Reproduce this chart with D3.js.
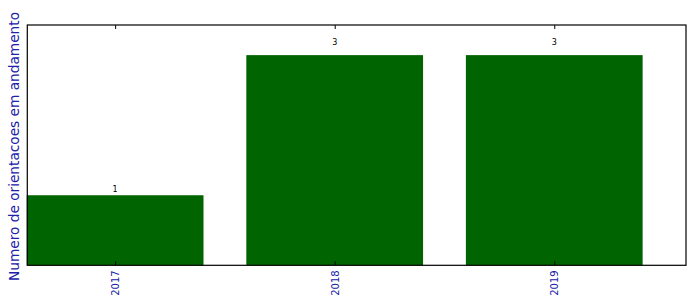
<!DOCTYPE html>
<html>
<head>
<meta charset="utf-8">
<script src="https://cdn.jsdelivr.net/npm/d3@7"></script>
<style>
  body { margin: 0; background: #fff; }
  svg { display: block; font-family: "DejaVu Sans", sans-serif; }
</style>
</head>
<body>
<div id="app"></div>
<script>
// chart data
const years = ['2017', '2018', '2019'];
const counts = [1, 3, 3];

(() => {
  const WIDTH = 696;
  const HEIGHT = 308;
  const margin = { left: 27.3, right: 10, top: 25, bottom: 42.7 };

  const svg = d3.select('#app')
    .append('svg')
    .attr('width', WIDTH)
    .attr('height', HEIGHT);

  // positions like matplotlib: bars centred on index, xlim [-0.4, 2.6]
  const x = d3.scaleLinear()
    .domain([-0.4, 2.6])
    .range([margin.left, WIDTH - margin.right]);

  const y = d3.scaleLinear()
    .domain([0, 3.43])
    .range([HEIGHT - margin.bottom, margin.top]);

  const barW = 0.805;

  svg.append('g')
    .selectAll('rect')
    .data(counts)
    .join('rect')
    .attr('x', (d, i) => x(i - barW / 2))
    .attr('width', x(barW) - x(0))
    .attr('y', d => y(d))
    .attr('height', d => y(0) - y(d))
    .attr('fill', '#006400');

  // value labels
  svg.append('g')
    .selectAll('text')
    .data(counts)
    .join('text')
    .attr('x', (d, i) => x(i))
    .attr('y', d => y(d * 1.05))
    .attr('text-anchor', 'middle')
    .attr('font-size', 8)
    .attr('fill', '#000')
    .text(d => d);

  // bottom ticks (inward) + rotated labels
  const xAxis = d3.axisBottom(x)
    .tickValues(d3.range(years.length))
    .tickFormat(i => years[i])
    .tickSize(-4)
    .tickPadding(6);

  const gx = svg.append('g')
    .attr('transform', `translate(0,${y(0)})`)
    .call(xAxis);
  gx.select('.domain').remove();
  gx.selectAll('line').attr('stroke', '#000');
  gx.selectAll('text')
    .attr('font-size', 10)
    .attr('font-family', '"DejaVu Sans", sans-serif')
    .attr('fill', '#2020a8')
    .attr('transform', 'rotate(-90)')
    .attr('text-anchor', 'end')
    .attr('dy', '0.35em')
    .attr('x', -5)
    .attr('y', 0);

  // top ticks (inward)
  const gt = svg.append('g')
    .attr('transform', `translate(0,${y.range()[1]})`)
    .call(d3.axisTop(x).tickValues(d3.range(years.length)).tickFormat('').tickSize(-4));
  gt.select('.domain').remove();
  gt.selectAll('line').attr('stroke', '#000');

  // frame
  svg.append('rect')
    .attr('x', x.range()[0])
    .attr('y', y.range()[1])
    .attr('width', x.range()[1] - x.range()[0])
    .attr('height', y.range()[0] - y.range()[1])
    .attr('fill', 'none')
    .attr('stroke', '#000')
    .attr('stroke-width', 1.2);

  // y label
  svg.append('text')
    .attr('transform', `translate(19,146.5) rotate(-90)`)
    .attr('text-anchor', 'middle')
    .attr('font-size', 13.7)
    .attr('fill', '#2020a8')
    .text('Numero de orientacoes em andamento');
})();
</script>
</body>
</html>
